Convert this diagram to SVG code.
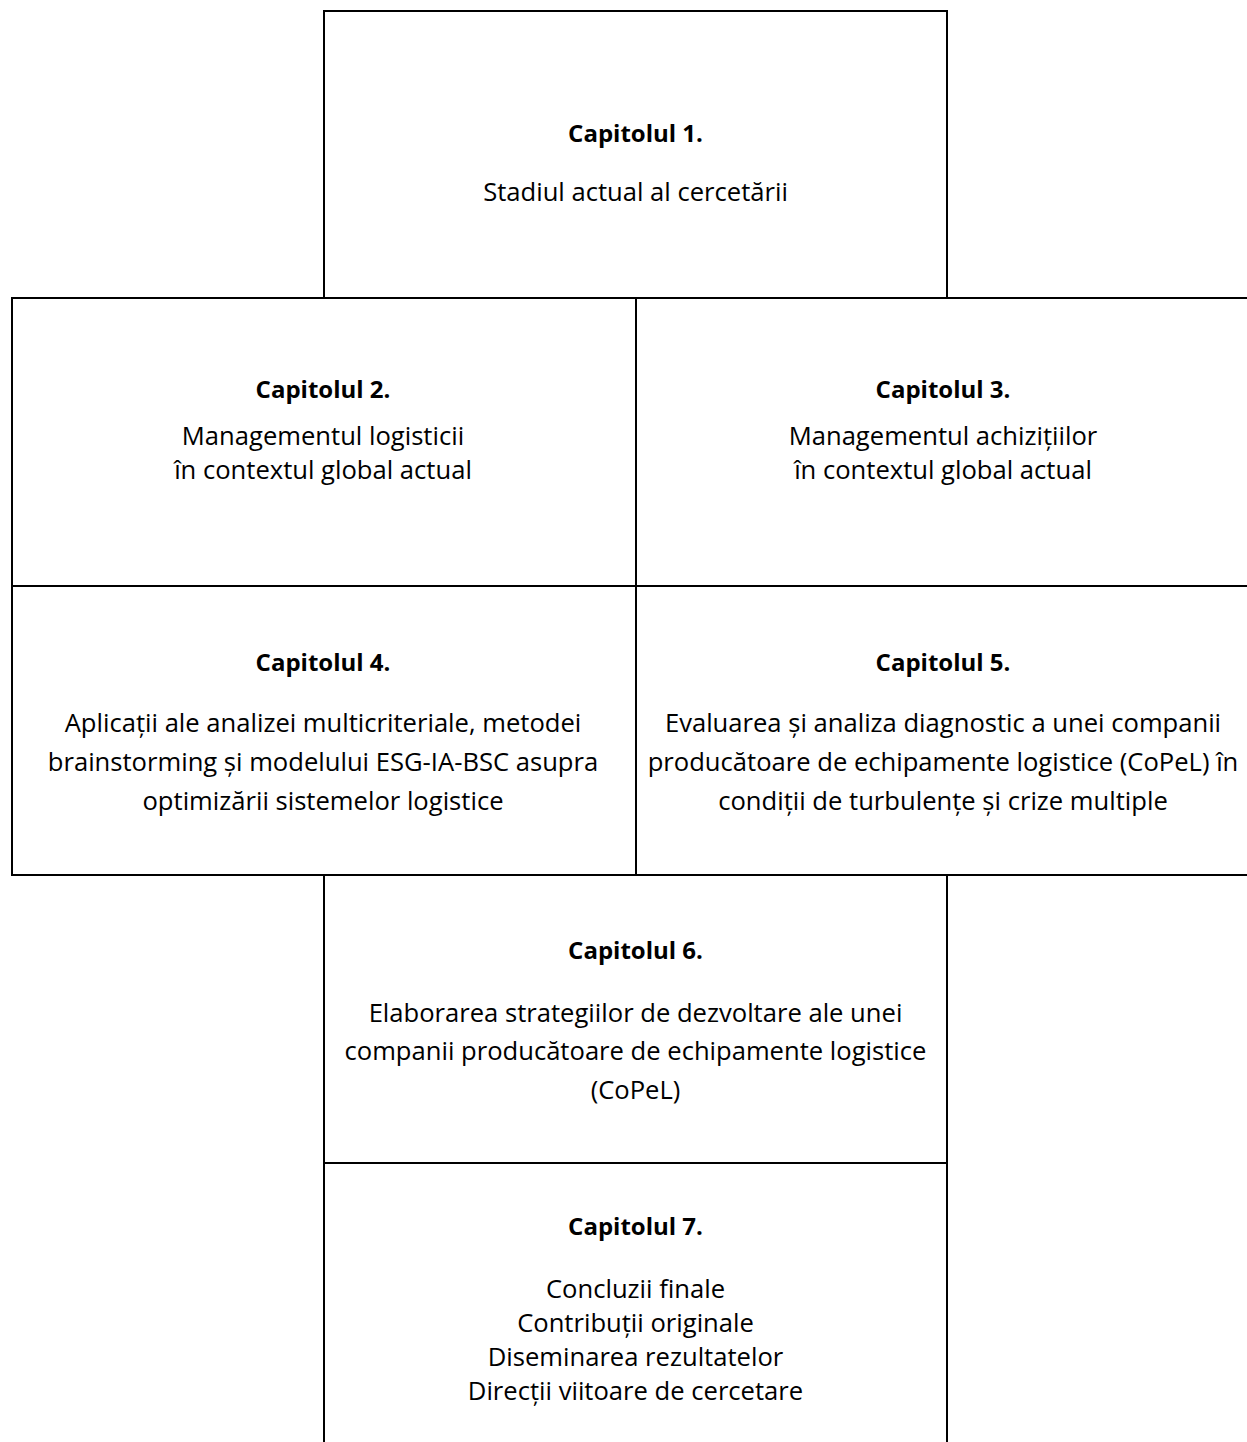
<svg xmlns="http://www.w3.org/2000/svg" width="1247" height="1442" viewBox="0 0 1247 1442">
<style>
.box{fill:#ffffff;stroke:#000000;stroke-width:2}
.t{font-family:"Open Sans","Noto Sans","DejaVu Sans",sans-serif;font-size:25.6px;fill:#000000;text-anchor:middle}
.h{font-weight:bold;font-size:24px}
</style>
<rect x="0" y="0" width="1247" height="1442" fill="#ffffff"/>
<g id="connectors"></g>
<g id="node1">
<rect class="box" x="324" y="11" width="623" height="287"/>
<text class="t h" x="635.5" y="142">Capitolul 1.</text>
<text class="t" x="635.5" y="201">Stadiul actual al cercetării</text>
</g>
<g id="node2">
<rect class="box" x="12" y="298" width="624" height="288"/>
<text class="t h" x="323" y="398">Capitolul 2.</text>
<text class="t" x="323" y="445">Managementul logisticii</text>
<text class="t" x="323" y="479">în contextul global actual</text>
</g>
<g id="node3">
<rect class="box" x="636" y="298" width="620" height="288"/>
<text class="t h" x="943" y="398">Capitolul 3.</text>
<text class="t" x="943" y="445">Managementul achizițiilor</text>
<text class="t" x="943" y="479">în contextul global actual</text>
</g>
<g id="node4">
<rect class="box" x="12" y="586" width="624" height="289"/>
<text class="t h" x="323" y="671">Capitolul 4.</text>
<text class="t" x="323" y="732">Aplicații ale analizei multicriteriale, metodei</text>
<text class="t" x="323" y="771">brainstorming și modelului ESG-IA-BSC asupra</text>
<text class="t" x="323" y="810">optimizării sistemelor logistice</text>
</g>
<g id="node5">
<rect class="box" x="636" y="586" width="620" height="289"/>
<text class="t h" x="943" y="671">Capitolul 5.</text>
<text class="t" x="943" y="732">Evaluarea și analiza diagnostic a unei companii</text>
<text class="t" x="943" y="771">producătoare de echipamente logistice (CoPeL) în</text>
<text class="t" x="943" y="810">condiții de turbulențe și crize multiple</text>
</g>
<g id="node6">
<rect class="box" x="324" y="875" width="623" height="288"/>
<text class="t h" x="635.5" y="959">Capitolul 6.</text>
<text class="t" x="635.5" y="1022">Elaborarea strategiilor de dezvoltare ale unei</text>
<text class="t" x="635.5" y="1060">companii producătoare de echipamente logistice</text>
<text class="t" x="635.5" y="1099">(CoPeL)</text>
</g>
<g id="node7">
<rect class="box" x="324" y="1163" width="623" height="300"/>
<text class="t h" x="635.5" y="1235">Capitolul 7.</text>
<text class="t" x="635.5" y="1298">Concluzii finale</text>
<text class="t" x="635.5" y="1332">Contribuții originale</text>
<text class="t" x="635.5" y="1366">Diseminarea rezultatelor</text>
<text class="t" x="635.5" y="1400">Direcții viitoare de cercetare</text>
</g>
</svg>
